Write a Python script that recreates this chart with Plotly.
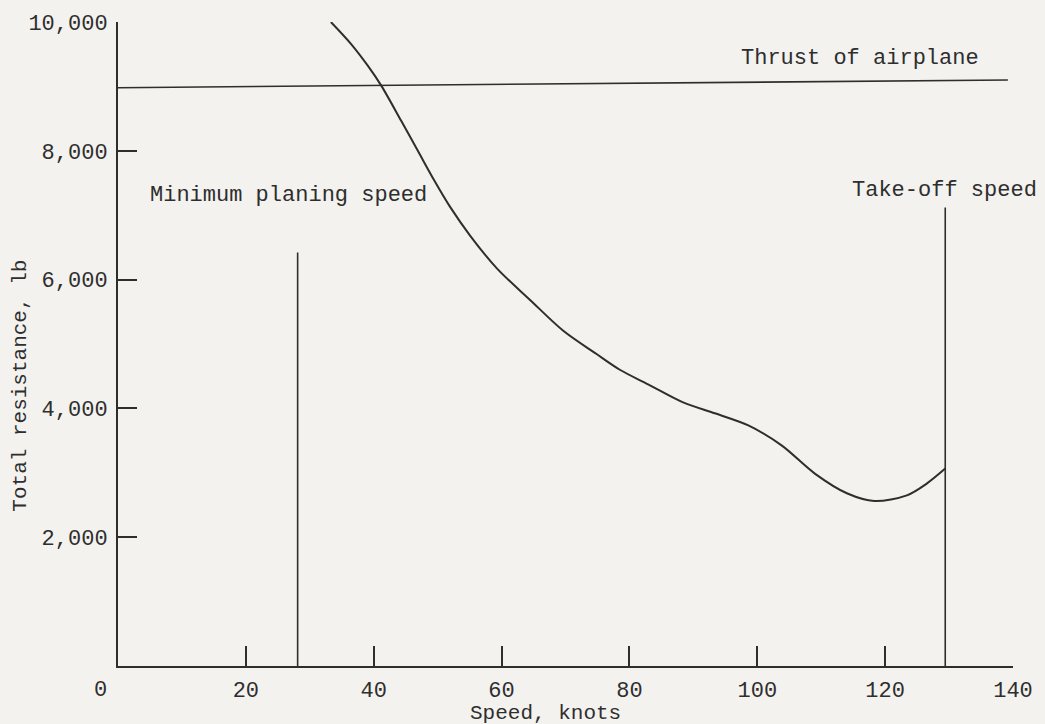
import plotly.graph_objects as go

# Data
speed = [33.3, 36.5, 39.1, 41.2, 44.3, 46.9, 49.5, 52.0, 55.1, 59.3, 64.5, 69.6, 74.8, 78.5,
         83.0, 88.3, 93.5, 98.6, 103.8, 109.0, 114.1, 118.3, 123.4, 126.5, 129.4]
resistance = [10000, 9654, 9318, 9008, 8465, 8000, 7535, 7121, 6680, 6170, 5680, 5210, 4848, 4600,
              4370, 4098, 3920, 3736, 3426, 2988, 2678, 2563, 2650, 2832, 3065]

thrust_speed = [0, 139.2]
thrust_value = [8980, 9100]

min_planing_speed = [28.1, 28.1]
min_planing_y = [0, 6420]

takeoff_speed = [129.4, 129.4]
takeoff_y = [0, 7120]

x_ticks = [20, 40, 60, 80, 100, 120, 140]
x_ticktext = ["20", "40", "60", "80", "100", "120", "140"]
y_ticks = [2000, 4000, 6000, 8000, 10000]
y_ticktext = ["2,000", "4,000", "6,000", "8,000", "10,000"]

FONT = "Liberation Mono, Courier New, monospace"
INK = "#2e2e2e"
BG = "#f3f2ee"

fig = go.Figure()
fig.add_trace(go.Scatter(x=speed, y=resistance, mode="lines",
                         line=dict(color=INK, width=2, shape="spline", smoothing=0.9)))
fig.add_trace(go.Scatter(x=thrust_speed, y=thrust_value, mode="lines", line=dict(color=INK, width=1.6)))
fig.add_trace(go.Scatter(x=min_planing_speed, y=min_planing_y, mode="lines", line=dict(color=INK, width=1.6)))
fig.add_trace(go.Scatter(x=takeoff_speed, y=takeoff_y, mode="lines", line=dict(color=INK, width=1.6)))

ann_font = dict(family=FONT, size=22, color=INK)
fig.add_annotation(x=116.1, y=9430, text="Thrust of airplane", showarrow=False, font=ann_font)
fig.add_annotation(x=129.3, y=7380, text="Take-off speed", showarrow=False, font=ann_font)
fig.add_annotation(x=26.7, y=7300, text="Minimum planing speed", showarrow=False, font=ann_font)
fig.add_annotation(x=-0.02, xref="paper", y=0, yref="paper", yshift=-24, yanchor="middle",
                   xanchor="center", text="0", showarrow=False, font=ann_font)
fig.add_annotation(x=66.9, y=0, yref="paper", yshift=-47, yanchor="middle", text="Speed, knots",
                   showarrow=False, font=dict(family=FONT, size=21, color=INK))
fig.add_annotation(x=-0.109, xref="paper", y=4360, text="Total resistance, lb", showarrow=False,
                   textangle=-90, xanchor="center", yanchor="middle",
                   font=dict(family=FONT, size=21, color=INK))

fig.update_layout(
    width=1045, height=724,
    margin=dict(l=118, r=25, t=21, b=58),
    paper_bgcolor=BG, plot_bgcolor=BG,
    showlegend=False,
    xaxis=dict(range=[0, 140], tickvals=x_ticks, ticktext=x_ticktext, ticks="inside", ticklen=20,
               tickwidth=1.6, tickcolor=INK, showline=True, linecolor=INK, linewidth=2,
               showgrid=False, zeroline=False, tickfont=dict(family=FONT, size=22, color=INK),
               ticklabelstandoff=3),
    yaxis=dict(range=[0, 10000], tickvals=y_ticks, ticktext=y_ticktext, ticks="inside", ticklen=19,
               tickwidth=1.6, tickcolor=INK, showline=True, linecolor=INK, linewidth=2,
               showgrid=False, zeroline=False, tickfont=dict(family=FONT, size=22, color=INK),
               ticklabelstandoff=4),
)
fig.write_html("out.html")
